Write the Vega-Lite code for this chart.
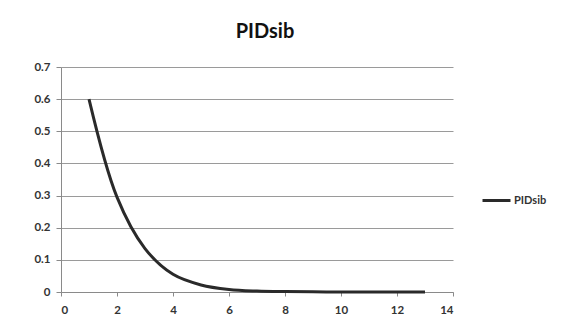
{
  "$schema": "https://vega.github.io/schema/vega-lite/v6.json",
  "autosize": {"type": "none"},
  "padding": {"left": 61, "top": 67, "right": 114, "bottom": 44},
  "width": 392,
  "height": 225,
  "background": "white",
  "title": {
    "text": "PIDsib",
    "font": "Lato",
    "fontSize": 20,
    "fontWeight": "bold",
    "color": "#111111",
    "anchor": "middle",
    "dx": 8,
    "offset": 19
  },
  "data": {
    "values": [
      {"x": 1, "y": 0.6, "series": "PIDsib"},
      {"x": 2, "y": 0.295, "series": "PIDsib"},
      {"x": 3, "y": 0.135, "series": "PIDsib"},
      {"x": 4, "y": 0.055, "series": "PIDsib"},
      {"x": 5, "y": 0.022, "series": "PIDsib"},
      {"x": 6, "y": 0.008, "series": "PIDsib"},
      {"x": 7, "y": 0.003, "series": "PIDsib"},
      {"x": 8, "y": 0.0012, "series": "PIDsib"},
      {"x": 9, "y": 0.0005, "series": "PIDsib"},
      {"x": 10, "y": 0.0002, "series": "PIDsib"},
      {"x": 11, "y": 0.0001, "series": "PIDsib"},
      {"x": 12, "y": 0.00004, "series": "PIDsib"},
      {"x": 13, "y": 0.00002, "series": "PIDsib"}
    ]
  },
  "mark": {"type": "line", "interpolate": "catmull-rom", "strokeWidth": 3, "strokeCap": "butt"},
  "encoding": {
    "x": {
      "field": "x",
      "type": "quantitative",
      "scale": {"domain": [0, 14], "nice": false},
      "axis": {
        "title": null,
        "values": [0, 2, 4, 6, 8, 10, 12, 14],
        "grid": false,
        "tickSize": 4,
        "labelPadding": 8,
        "domainColor": "#8a8a8a",
        "tickColor": "#8a8a8a"
      }
    },
    "y": {
      "field": "y",
      "type": "quantitative",
      "scale": {"domain": [0, 0.7], "nice": false},
      "axis": {
        "title": null,
        "values": [0, 0.1, 0.2, 0.3, 0.4, 0.5, 0.6, 0.7],
        "labelExpr": "datum.value == 0 ? '0' : format(datum.value, '.1f')",
        "grid": true,
        "gridColor": "#9a9a9a",
        "gridWidth": 1,
        "tickSize": 5,
        "labelPadding": 6,
        "domainColor": "#8a8a8a",
        "tickColor": "#8a8a8a"
      }
    },
    "color": {
      "field": "series",
      "type": "nominal",
      "scale": {"range": ["#2a2a2a"]},
      "legend": {
        "title": null,
        "orient": "none",
        "legendX": 420,
        "legendY": 118,
        "symbolType": "stroke",
        "symbolSize": 784,
        "symbolStrokeWidth": 3,
        "labelOffset": 2,
        "labelFont": "Lato",
        "labelFontSize": 11,
        "labelFontWeight": "bold",
        "labelColor": "#333333"
      }
    }
  },
  "config": {
    "view": {"stroke": null},
    "axis": {
      "labelFont": "Lato",
      "labelFontSize": 11.5,
      "labelFontWeight": "bold",
      "labelColor": "#333333"
    }
  }
}
